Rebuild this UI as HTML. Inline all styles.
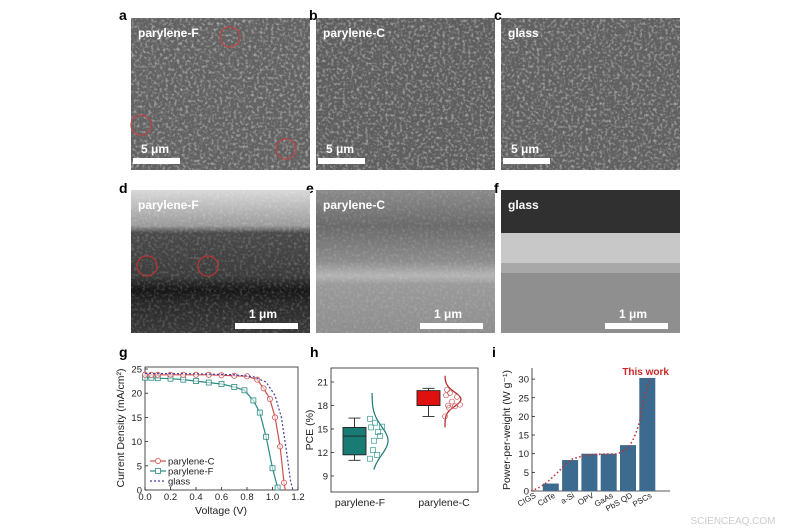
<!DOCTYPE html>
<html><head><meta charset="utf-8"><style>
body{margin:0;background:#fff;}
svg{display:block;font-family:"Liberation Sans",Arial,sans-serif;}
</style></head><body>
<svg id="s" width="800" height="530" viewBox="0 0 800 530" xmlns="http://www.w3.org/2000/svg">
<defs>
<filter id="grain" x="0" y="0" width="100%" height="100%">
<feTurbulence type="fractalNoise" baseFrequency="0.35" numOctaves="2" seed="3"/>
<feColorMatrix type="matrix" values="0 0 0 0 1  0 0 0 0 1  0 0 0 0 1  1.6 0 0 0 -0.75"/>
</filter>
<linearGradient id="gd" x1="0" y1="0" x2="0" y2="1">
<stop offset="0" stop-color="#d8d8d8"/><stop offset="0.25" stop-color="#9a9a9a"/><stop offset="0.3" stop-color="#4a4a4a"/><stop offset="0.6" stop-color="#3c3c3c"/><stop offset="0.7" stop-color="#151515"/><stop offset="0.8" stop-color="#2a2a2a"/><stop offset="1" stop-color="#3a3a3a"/>
</linearGradient>
<linearGradient id="ge" x1="0" y1="0" x2="0" y2="1">
<stop offset="0" stop-color="#8a8a8a"/><stop offset="0.25" stop-color="#6a6a6a"/><stop offset="0.5" stop-color="#8c8c8c"/><stop offset="0.6" stop-color="#b4b4b4"/><stop offset="0.66" stop-color="#9a9a9a"/><stop offset="1" stop-color="#8e8e8e"/>
</linearGradient>
</defs>
<g>
<rect x="131" y="18" width="179" height="152" fill="#626262"/><rect x="131" y="18" width="179" height="152" filter="url(#grain)" opacity="0.75"/>
<rect x="316" y="18" width="179" height="152" fill="#5e5e5e"/><rect x="316" y="18" width="179" height="152" filter="url(#grain)" opacity="0.75"/>
<rect x="501" y="18" width="179" height="152" fill="#606060"/><rect x="501" y="18" width="179" height="152" filter="url(#grain)" opacity="0.75"/>
<circle cx="230" cy="37" r="10" fill="none" stroke="#b44" stroke-width="1.2"/>
<circle cx="141" cy="125" r="10" fill="none" stroke="#b44" stroke-width="1.2"/>
<circle cx="286" cy="149" r="10" fill="none" stroke="#b44" stroke-width="1.2"/>
<g fill="#fff" font-weight="bold" font-size="12">
<text x="138" y="37">parylene-F</text><text x="323" y="37">parylene-C</text><text x="508" y="37">glass</text>
<text x="141" y="153">5 μm</text><text x="326" y="153">5 μm</text><text x="511" y="153">5 μm</text>
</g>
<g fill="#fff"><rect x="133" y="158" width="47" height="6"/><rect x="318" y="158" width="47" height="6"/><rect x="503" y="158" width="47" height="6"/></g>
<g fill="#000" font-weight="bold" font-size="14">
<text x="119" y="20">a</text><text x="309" y="20">b</text><text x="494" y="20">c</text>
<text x="119" y="193">d</text><text x="306" y="193">e</text><text x="494" y="193">f</text>
<text x="119" y="357">g</text><text x="310" y="357">h</text><text x="492" y="357">i</text>
</g>
</g>
<rect x="131" y="190" width="179" height="143" fill="url(#gd)"/>
<rect x="316" y="190" width="179" height="143" fill="url(#ge)"/>
<rect x="501" y="190" width="179" height="143" fill="#8f8f8f"/>
<rect x="501" y="190" width="179" height="45" fill="#303030"/>
<rect x="501" y="233" width="179" height="38" fill="#c8c8c8"/>
<rect x="501" y="263" width="179" height="10" fill="#a8a8a8"/>
<rect x="131" y="190" width="179" height="143" filter="url(#grain)" opacity="0.35"/>
<rect x="316" y="190" width="179" height="143" filter="url(#grain)" opacity="0.25"/>
<circle cx="147" cy="266" r="10" fill="none" stroke="#b33" stroke-width="1.2"/>
<circle cx="208" cy="266" r="10" fill="none" stroke="#b33" stroke-width="1.2"/>
<g fill="#fff" font-weight="bold" font-size="12">
<text x="138" y="209">parylene-F</text><text x="323" y="209">parylene-C</text><text x="508" y="209">glass</text>
<text x="249" y="318">1 μm</text><text x="434" y="318">1 μm</text><text x="619" y="318">1 μm</text>
</g>
<g fill="#fff"><rect x="235" y="323" width="63" height="6"/><rect x="420" y="323" width="63" height="6"/><rect x="605" y="323" width="63" height="6"/></g>
<g id="g" font-size="9.5" fill="#222">
<rect x="145" y="367" width="153" height="123" fill="none" stroke="#222" stroke-width="0.8"/>
</g>
<g id="h" font-size="9.5" fill="#222">
<rect x="331" y="368" width="147" height="124" fill="none" stroke="#222" stroke-width="0.8"/>
</g>
<g id="i" font-size="9.5" fill="#222">
<path d="M532 368 V491 H670" fill="none" stroke="#222" stroke-width="0.8"/>
</g>
<text x="733" y="524" font-size="10" fill="#ccc" text-anchor="middle">SCIENCEAQ.COM</text>
</svg>
<script>
var NS="http://www.w3.org/2000/svg";
function el(p,t,a,txt){var e=document.createElementNS(NS,t);for(var k in a)e.setAttribute(k,a[k]);if(txt!==undefined)e.textContent=txt;document.getElementById(p).appendChild(e);return e;}
var X=function(v){return 145+127.5*v},Y=function(j){return 490-4.84*j};
for(var i=0;i<=6;i++){var v=i*0.2;el("g","line",{x1:X(v),y1:490,x2:X(v),y2:487,stroke:"#222","stroke-width":0.8});el("g","text",{x:X(v),y:500,"text-anchor":"middle"},v.toFixed(1));}
for(var j=0;j<=25;j+=5){el("g","line",{x1:145,y1:Y(j),x2:148,y2:Y(j),stroke:"#222","stroke-width":0.8});el("g","text",{x:142,y:Y(j)+3.5,"text-anchor":"end"},j);}
el("g","text",{x:221,y:514,"text-anchor":"middle","font-size":"10.5"},"Voltage (V)");
el("g","text",{x:0,y:0,transform:"translate(124,428) rotate(-90)","text-anchor":"middle","font-size":"10.5"},"Current Density (mA/cm²)");
function curve(pts,col,dash,mark){var d=pts.map(function(p,k){return(k?"L":"M")+X(p[0]).toFixed(1)+" "+Y(p[1]).toFixed(1)}).join("");
el("g","path",{d:d,fill:"none",stroke:col,"stroke-width":1.2,"stroke-dasharray":dash||""});
if(mark){pts.forEach(function(p,k){if(p[1]<=0.01)return;if(mark=="o")el("g","circle",{cx:X(p[0]),cy:Y(p[1]),r:2.6,fill:"#fff","fill-opacity":0.6,stroke:col,"stroke-width":0.8});else el("g","rect",{x:X(p[0])-2.5,y:Y(p[1])-2.5,width:5,height:5,fill:"#fff","fill-opacity":0.6,stroke:col,"stroke-width":0.8});});}}
curve([[0,23.2],[0.05,23.2],[0.1,23.1],[0.2,23],[0.3,22.8],[0.4,22.5],[0.5,22.2],[0.6,21.9],[0.7,21.3],[0.78,20.6],[0.85,18.5],[0.9,16],[0.95,11],[1.0,4.5],[1.04,0.5],[1.06,0]],"#2a8a80","","s");
curve([[0,23.8],[0.05,23.8],[0.1,23.8],[0.2,23.8],[0.3,23.8],[0.4,23.8],[0.5,23.8],[0.6,23.7],[0.7,23.6],[0.8,23.5],[0.88,22.8],[0.93,21],[0.98,18.8],[1.02,15],[1.06,9],[1.09,1.5],[1.1,0]],"#d05050","","o");
curve([[0,24.1],[0.4,24],[0.7,23.8],[0.85,23.4],[0.95,22.3],[1.02,19.5],[1.07,15],[1.11,8],[1.14,2],[1.16,0]],"#4040a0","2,2");
[["parylene-C","#d05050","o"],["parylene-F","#2a8a80","s"],["glass","#4040a0","d"]].forEach(function(l,k){var y=461+k*10;
el("g","line",{x1:150,y1:y,x2:166,y2:y,stroke:l[1],"stroke-width":1.2,"stroke-dasharray":l[2]=="d"?"2,2":""});
if(l[2]=="o")el("g","circle",{cx:158,cy:y,r:2.6,fill:"#fff",stroke:l[1],"stroke-width":0.8});if(l[2]=="s")el("g","rect",{x:155.5,y:y-2.5,width:5,height:5,fill:"#fff",stroke:l[1],"stroke-width":0.8});
el("g","text",{x:168,y:y+3.5},l[0]);});
var H=function(v){return 382+(21-v)*7.83};
[9,12,15,18,21].forEach(function(v){el("h","line",{x1:331,y1:H(v),x2:334,y2:H(v),stroke:"#222","stroke-width":0.8});el("h","text",{x:328,y:H(v)+3.5,"text-anchor":"end"},v);});
el("h","text",{x:0,y:0,transform:"translate(313,430) rotate(-90)","text-anchor":"middle","font-size":"10.5"},"PCE (%)");
el("h","text",{x:360,y:506,"text-anchor":"middle","font-size":"10.5"},"parylene-F");
el("h","text",{x:444,y:506,"text-anchor":"middle","font-size":"10.5"},"parylene-C");
function box(x0,w,lo,q1,md,q3,hi,col){var c=x0+w/2;el("h","path",{d:"M"+c+" "+H(hi)+"V"+H(lo)+"M"+(c-6)+" "+H(hi)+"h12M"+(c-6)+" "+H(lo)+"h12",stroke:"#222","stroke-width":0.9,fill:"none"});
el("h","rect",{x:x0,y:H(q3),width:w,height:H(q1)-H(q3),fill:col,stroke:"#222","stroke-width":0.9});el("h","line",{x1:x0,y1:H(md),x2:x0+w,y2:H(md),stroke:"#222","stroke-width":0.9});}
box(343,23,11,11.7,14.1,15.2,16.4,"#1a7a74");box(417,23,16.6,18,18,19.9,20.2,"#e01010");
function bell(x0,mu,sg,lo,hi,amp,col){var d="";for(var v=lo;v<=hi+0.001;v+=0.2){var x=x0+amp*Math.exp(-(v-mu)*(v-mu)/(2*sg*sg));d+=(d?"L":"M")+x.toFixed(1)+" "+H(v).toFixed(1);}el("h","path",{d:d,fill:"none",stroke:col,"stroke-width":1.2});}
bell(372,13.5,1.8,9.8,19.6,16,"#1a7a74");bell(445,18.8,0.9,15.2,21.8,16,"#b02020");
[[370,16.3],[375,15.8],[371,15.2],[378,14.6],[380,14.1],[374,13.5],[373,12.3],[377,11.7],[370,11.2],[382,15.3]].forEach(function(p){el("h","rect",{x:p[0]-2.5,y:H(p[1])-2.5,width:5,height:5,fill:"none",stroke:"#3a9a92","stroke-width":0.7});});
[[447,20],[450,19.6],[446,19.3],[452,18.5],[448,18],[455,17.9],[460,18.1],[449,17.7],[445,16.6],[457,19.1]].forEach(function(p){el("h","circle",{cx:p[0],cy:H(p[1]),r:2.5,fill:"none",stroke:"#d06060","stroke-width":0.7});});
var I=function(v){return 491-3.73*v};
for(var v=0;v<=30;v+=5){el("i","line",{x1:532,y1:I(v),x2:535,y2:I(v),stroke:"#222","stroke-width":0.8});el("i","text",{x:529,y:I(v)+3.5,"text-anchor":"end"},v);}
el("i","text",{x:0,y:0,transform:"translate(510,430) rotate(-90)","text-anchor":"middle","font-size":"10.5"},"Power-per-weight (W g⁻¹)");
var names=["CIGS","CdTe","a-Si","OPV","GaAs","PbS QD","PSCs"],vals=[0,2,8.3,10,10,12.3,30.3],cs=[];
names.forEach(function(n,k){var c=531.5+k*19.3;cs.push(c);if(vals[k]>0)el("i","rect",{x:c-8,y:I(vals[k]),width:16,height:491-I(vals[k]),fill:"#3d6a8f"});
el("i","text",{x:0,y:0,transform:"translate("+(c+5)+",497) rotate(-30)","text-anchor":"end","font-size":"8"},n);});
el("i","path",{d:"M531 491 C545 486,550 480,570 460 C585 454,600 454,617 454 C628 450,633 445,640 420 C643 400,646 390,650 378",fill:"none",stroke:"#c03030","stroke-width":1.6,"stroke-dasharray":"1.5,2.5"});
el("i","text",{x:669,y:375,"text-anchor":"end","font-weight":"bold",fill:"#c82828","font-size":"10"},"This work");
</script>
</body></html>
